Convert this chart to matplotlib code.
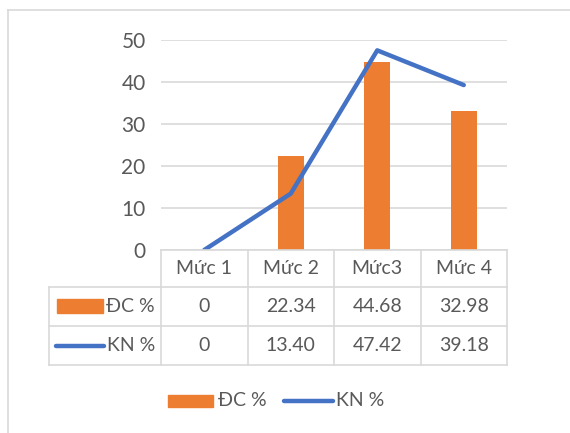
import matplotlib
matplotlib.use("Agg")
import matplotlib.pyplot as plt
from matplotlib.lines import Line2D
from matplotlib.patches import Rectangle
import matplotlib.transforms as mtransforms

plt.rcParams['font.family'] = ['Lato', 'DejaVu Sans']

categories = ["Mức 1", "Mức 2", "Mức3", "Mức 4"]
dc_values = [0, 22.34, 44.68, 32.98]
kn_values = [0, 13.40, 47.42, 39.18]
dc_labels = ["0", "22.34", "44.68", "32.98"]
kn_labels = ["0", "13.40", "47.42", "39.18"]
series_names = ["ĐC %", "KN %"]
yticks = [0, 10, 20, 30, 40, 50]

ORANGE = "#ED7D31"
BLUE = "#4472C4"
GRID = "#D9D9D9"
TXT = "#595959"

W, H = 570, 433
fig = plt.figure(figsize=(W / 100, H / 100), dpi=100)


def fx(x):
    return x / W


def fy(y):
    return 1 - y / H


# outer chart border
fig.add_artist(Line2D([fx(8), fx(8)], [fy(10), fy(440)], color=GRID, lw=1.2))
fig.add_artist(Line2D([fx(8), fx(580)], [fy(10), fy(10)], color=GRID, lw=1.2))

ax_l, ax_r, ax_t, ax_b = 161, 507, 39.5, 250
ax = fig.add_axes([fx(ax_l), fy(ax_b), (ax_r - ax_l) / W, (ax_b - ax_t) / H])
x = list(range(len(categories)))
ax.bar(x, dc_values, width=0.3, color=ORANGE, zorder=2)
ax.plot(x, kn_values, color=BLUE, lw=3.2, solid_capstyle='round', zorder=3)
ax.set_xlim(-0.5, len(categories) - 0.5)
ax.set_ylim(0, 50)
ax.set_yticks(yticks)
ax.set_yticklabels([str(v) for v in yticks])
ax.tick_params(axis='y', length=0, pad=11, labelsize=15, labelcolor=TXT)
ax.tick_params(axis='x', length=0, labelbottom=False)
ax.grid(axis='y', color=GRID, lw=1.2, zorder=0)
for s in ax.spines.values():
    s.set_visible(False)
ax.set_xticks([])

# data table below axes
trans = mtransforms.blended_transform_factory(ax.transData, fig.transFigure)
row_edges = [250, 286.7, 326, 365]
col_edges = [-0.5 + i for i in range(len(categories) + 1)]
left_px = 49
fs = 14

# horizontal lines
for i, y in enumerate(row_edges):
    fig.add_artist(Line2D([col_edges[0], col_edges[-1]], [fy(y), fy(y)],
                          transform=trans, color=GRID, lw=1.2))
    if i >= 1:
        fig.add_artist(Line2D([fx(left_px), fx(ax_l)], [fy(y), fy(y)], color=GRID, lw=1.2))
# vertical lines
for c in col_edges:
    fig.add_artist(Line2D([c, c], [fy(row_edges[0]), fy(row_edges[-1])],
                          transform=trans, color=GRID, lw=1.2))
fig.add_artist(Line2D([fx(left_px), fx(left_px)], [fy(row_edges[1]), fy(row_edges[-1])],
                      color=GRID, lw=1.2))

rows = [categories, dc_labels, kn_labels]
for r, labels in enumerate(rows):
    yc = (row_edges[r] + row_edges[r + 1]) / 2
    for i, lab in enumerate(labels):
        fig.text(x[i], fy(yc), lab, transform=trans, ha='center', va='center',
                 fontsize=fs, color=TXT)

# row headers with legend keys
y1 = (row_edges[1] + row_edges[2]) / 2
y2 = (row_edges[2] + row_edges[3]) / 2
fig.add_artist(Rectangle((fx(57), fy(y1 + 7)), fx(103) - fx(57), 14 / H,
                         color=ORANGE, transform=fig.transFigure))
fig.text(fx(155), fy(y1), series_names[0], ha='right', va='center', fontsize=fs, color=TXT)
fig.add_artist(Line2D([fx(56), fx(104)], [fy(y2), fy(y2)], color=BLUE, lw=3.2,
                      solid_capstyle='round'))
fig.text(fx(155), fy(y2), series_names[1], ha='right', va='center', fontsize=fs, color=TXT)

# legend
ly = 401
fig.add_artist(Rectangle((fx(168), fy(ly + 6)), fx(213) - fx(168), 12 / H,
                         color=ORANGE, transform=fig.transFigure))
fig.text(fx(218), fy(ly), series_names[0], ha='left', va='center', fontsize=fs, color=TXT)
fig.add_artist(Line2D([fx(284), fx(333)], [fy(ly), fy(ly)], color=BLUE, lw=3.2,
                      solid_capstyle='round'))
fig.text(fx(336), fy(ly), series_names[1], ha='left', va='center', fontsize=fs, color=TXT)

fig.savefig("out.png", dpi=100)
